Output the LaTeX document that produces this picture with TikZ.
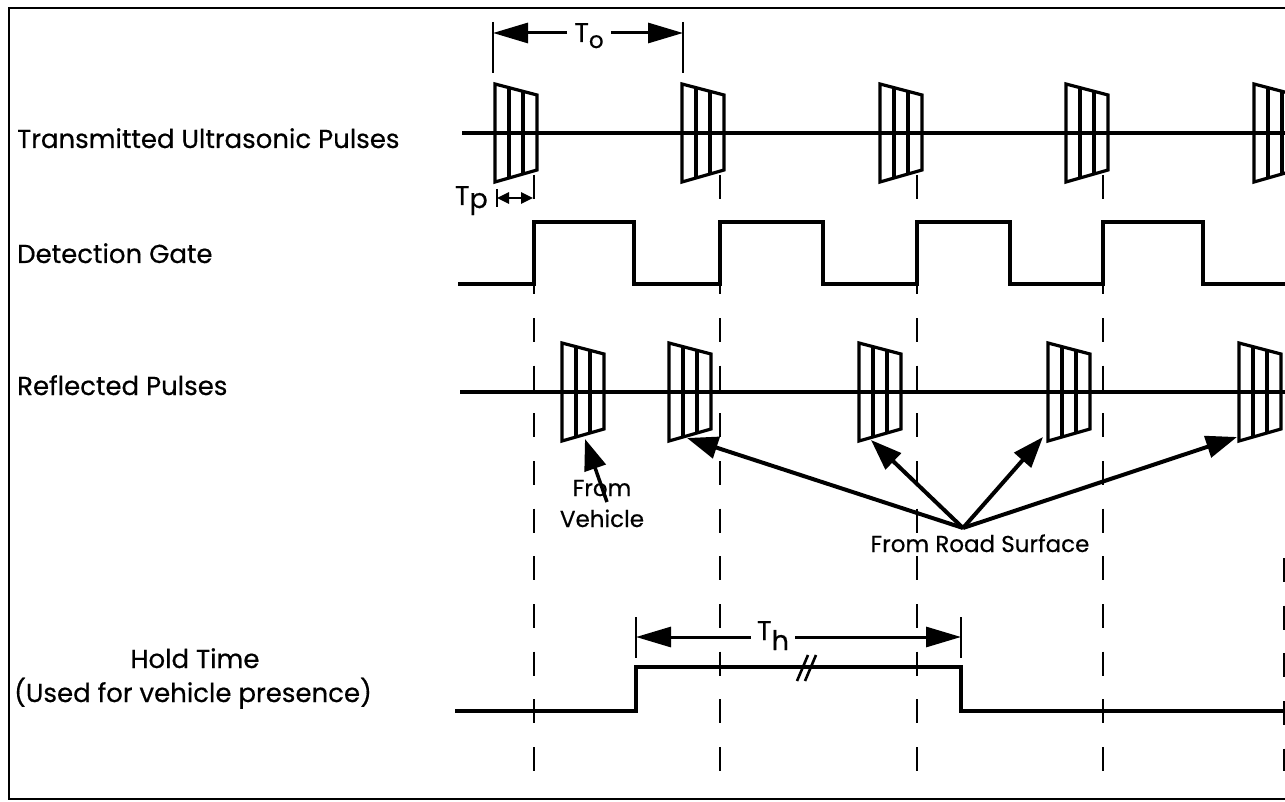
\documentclass[tikz,border=0pt]{standalone}
\usepackage{fontspec}
\setmainfont{Poppins}[FakeBold=0.5]
\usetikzlibrary{arrows.meta}
\begin{document}
\begin{tikzpicture}[x=1pt,y=-1pt,
  sig/.style={line width=3.2pt, line join=miter},
  pulseline/.style={line width=3.2pt, line join=miter},
  guide/.style={line width=2.8pt, dash pattern=on 24pt off 23.67pt},
  tick/.style={line width=2.6pt},
  border/.style={line width=2.8pt},
  lbl/.style={font=\fontsize{26}{30}\selectfont, inner sep=0pt},
  plbl/.style={font=\fontsize{23}{31}\selectfont, inner sep=0pt},
  tlbl/.style={font=\fontsize{27}{30}\selectfont, inner ysep=0pt},
  bigdim/.style={line width=3pt, -{Triangle[length=35pt,width=20pt]}},
  smalldim/.style={line width=2.6pt, {Triangle[length=12pt,width=11pt]}-{Triangle[length=12pt,width=11pt]}},
  ptr/.style={line width=4pt, -{Triangle[length=31pt,width=22pt]}},
  pulse/.pic={
    \draw[pulseline] (0,-49) -- (42,-38) -- (42,37) -- (0,49) -- cycle;
    \draw[pulseline] (14,-45.3) -- (14,45);
    \draw[pulseline] (28,-41.7) -- (28,41);
    \coordinate (-bl) at (0,49);
  }]
\useasboundingbox (0,0) rectangle (1285,802);
\clip (0,0) rectangle (1285,802);
\fill[white] (0,0) rectangle (1285,802);

% frame
\draw[border] (1295,8) -- (9,8) -- (9,799) -- (1295,799);

% labels
\node[lbl, anchor=base west] (ltx) at (17,148) {Transmitted Ultrasonic Pulses};
\node[lbl, anchor=base west] (lgate) at (17,263) {Detection Gate};
\node[lbl, anchor=base west] (lref) at (17,395) {Reflected Pulses};
\node[lbl, anchor=base] (lhold) at (195,668) {Hold Time};
\node[lbl, anchor=base] (lhold2) at (193,702) {(Used for vehicle presence)};

% dashed guides
\foreach \gx/\nm in {534/g1,720/g2,917/g3,1103/g4}{
  \coordinate (\nm top) at (\gx,175);
  \coordinate (\nm bot) at (\gx,771);
  \draw[guide] (\nm top) -- (\nm bot);
}
\coordinate (g5top) at (1284,558);
\coordinate (g5bot) at (1284,771);
\draw[guide] (g5top) -- (g5bot);

% transmitted
\coordinate (txs) at (462,133);
\coordinate (txe) at (1295,133);
\draw[sig] (txs) -- (txe);
\pic (t1) at (495,133) {pulse};
\pic (t2) at (682,133) {pulse};
\pic (t3) at (880,133) {pulse};
\pic (t4) at (1066,133) {pulse};
\pic (t5) at (1254,133) {pulse};

% detection gate
\draw[sig] (458,284) -- (534,284) -- (534,222) -- (634,222) -- (634,284)
  -- (720,284) -- (720,222) -- (823,222) -- (823,284)
  -- (917,284) -- (917,222) -- (1010,222) -- (1010,284)
  -- (1103,284) -- (1103,222) -- (1203,222) -- (1203,284) -- (1295,284);

% reflected
\coordinate (rxs) at (460,392);
\coordinate (rxe) at (1295,392);
\draw[sig] (rxs) -- (rxe);
\pic (r1) at (562,392) {pulse};
\pic (r2) at (669,392) {pulse};
\pic (r3) at (859,392) {pulse};
\pic (r4) at (1048,392) {pulse};
\pic (r5) at (1239,392) {pulse};

% hold time
\draw[sig] (455,711) -- (636,711) -- (636,667) -- (961,667) -- (961,711) -- (1295,711);
\draw[tick] (797,681) -- (808,655);
\draw[tick] (805,681) -- (816,655);

% T_o
\draw[tick] (493,22) -- (493,73);
\draw[tick] (683,22) -- (683,73);
\coordinate (toL) at (493,33);
\coordinate (toR) at (683,33);
\node[tlbl, inner xsep=7pt, anchor=base] (To) at (589,42) {T\raisebox{-6pt}{\fontsize{23}{23}\selectfont o}};
\draw[bigdim] (To.west |- toL) -- (toL);
\draw[bigdim] (To.east |- toR) -- (toR);

% T_p
\draw[tick] (497,189) -- (497,207);
\coordinate (tpL) at (497,198);
\coordinate (tpR) at (533,198);
\node[tlbl, inner xsep=2pt, anchor=base east] (Tp) at (490,205) {T\raisebox{-3pt}{p}};
\draw[smalldim] (tpL) -- (tpR);

% T_h
\draw[tick] (636,617) -- (636,658);
\draw[tick] (961,617) -- (961,658);
\coordinate (thL) at (636,637);
\coordinate (thR) at (961,637);
\node[tlbl, inner xsep=6pt, anchor=base] (Th) at (773,640) {T\raisebox{-10pt}{h}};
\draw[bigdim] (Th.west |- thL) -- (thL);
\draw[bigdim] (Th.east |- thR) -- (thR);

% from vehicle
\node[plbl, align=center, anchor=base] (fv) at (602,527) {From\\Vehicle};
\coordinate (fvtail) at (607,502);
\coordinate (fvtip) at (585,439);
\draw[ptr, line width=3.5pt] (fvtail) -- (fvtip);

% from road surface
\node[plbl, anchor=base] (fr) at (980,552) {From Road Surface};
\coordinate (road) at (963,528);
\coordinate (tipB) at (687,438);
\coordinate (tipC) at (871,440);
\coordinate (tipD) at (1043,437);
\coordinate (tipE) at (1237,437);
\draw[ptr] (road) -- (tipB);
\draw[ptr] (road) -- (tipC);
\draw[ptr] (road) -- (tipD);
\draw[ptr] (road) -- (tipE);
\end{tikzpicture}
\end{document}
